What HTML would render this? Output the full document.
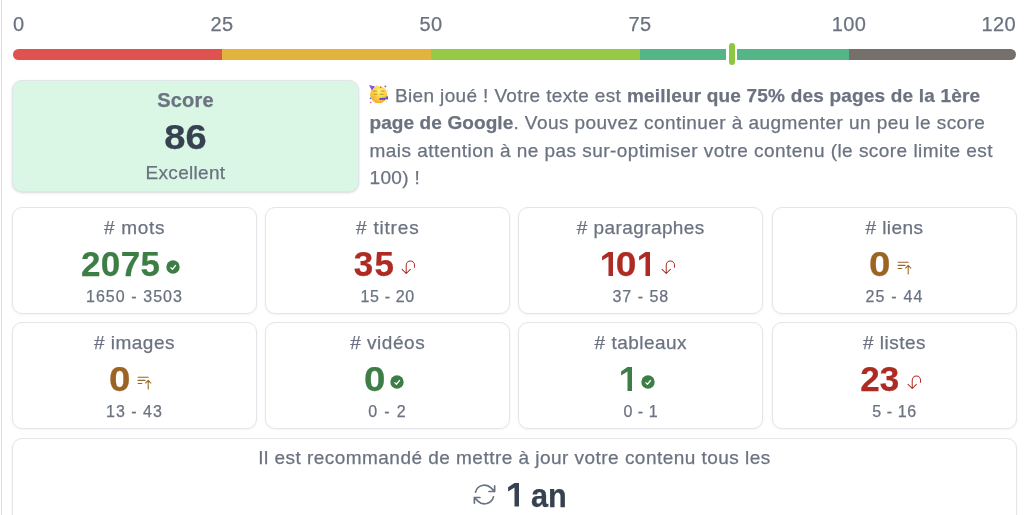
<!DOCTYPE html>
<html><head><meta charset="utf-8">
<style>
*{box-sizing:border-box;margin:0;padding:0}
html,body{width:1024px;height:515px;overflow:hidden;background:#fff}
body{position:relative;-webkit-text-stroke:0.25px currentColor;-webkit-font-smoothing:antialiased;will-change:transform;font-family:"Liberation Sans",sans-serif;color:#6b7280}
.vline{position:absolute;left:1px;top:0;width:1px;height:515px;background:#d9dbe1}
.lbl{position:absolute;top:14px;font-size:20px;line-height:20px;color:#6b7280;white-space:nowrap;letter-spacing:0.4px}
.bar{position:absolute;left:13px;top:49px;width:1003px;height:11px;border-radius:5.5px;overflow:hidden;display:flex}
.bar div{height:100%}
.marker{position:absolute;left:726px;top:41px;width:11px;height:26px;background:#fff;border-radius:5.5px}
.marker i{position:absolute;left:2.9px;top:2px;width:6px;height:22px;border-radius:3px;background:#8dc63f}
.score{position:absolute;left:12px;top:80px;width:347px;height:112px;background:#daf7e6;border:1px solid #e2e5e9;border-radius:10px;box-shadow:0 1px 3px rgba(0,0,0,.1),0 1px 2px rgba(0,0,0,.06);text-align:center}
.score .t{position:absolute;left:0;right:0;white-space:nowrap}
.para{position:absolute;left:369.5px;top:81.8px;font-size:19px;line-height:27.45px;color:#6b7280;white-space:nowrap}
.para b{font-weight:bold}
.emo{position:absolute;left:-3.5px;top:0.2px;width:26px;height:24px}
.card{position:absolute;width:245px;height:106.5px;border:1px solid #e3e5ea;border-radius:10px;background:#fff;box-shadow:0 1px 3px rgba(0,0,0,.05)}
.card .l{position:absolute;left:0;right:0;top:9.7px;text-align:center;font-size:19px;line-height:19px;white-space:nowrap}
.card .n{position:absolute;left:0;right:0;top:38px;height:35px;display:flex;justify-content:center;align-items:flex-start;font-weight:bold;font-size:35px;line-height:35px;white-space:nowrap;padding-right:6px}
.card .r{position:absolute;left:0;right:0;top:81px;text-align:center;font-size:16px;line-height:16px;white-space:nowrap}
.num{display:flex;align-items:flex-start}
.z{transform:scaleX(1.1)}
.one{display:block;margin-top:5.6px;fill:currentColor}
.g{color:#3c7e45}.rd{color:#ad2b22}.br{color:#9b6424}
.ic{display:block;margin-left:6px}
.ck{margin-top:14.1px}.ut{margin-top:12.6px;margin-left:6.9px}.ba{margin-top:12.7px;margin-left:6.8px}
.upd{position:absolute;left:0;right:0;top:40px;padding-left:11px;height:33px;display:flex;justify-content:center;align-items:flex-start;font-weight:bold;font-size:33px;line-height:33px;color:#374151;white-space:nowrap}
</style></head><body>
<div class="vline"></div>
<div class="lbl" style="left:13px">0</div>
<div class="lbl" style="left:222px;transform:translateX(-50%)">25</div>
<div class="lbl" style="left:431px;transform:translateX(-50%)">50</div>
<div class="lbl" style="left:640px;transform:translateX(-50%)">75</div>
<div class="lbl" style="left:849px;transform:translateX(-50%)">100</div>
<div class="lbl" style="right:8px">120</div>
<div class="bar">
<div style="width:209px;background:#df524f"></div>
<div style="width:209px;background:#e2b43e"></div>
<div style="width:209px;background:#96c946"></div>
<div style="width:209px;background:#54b586"></div>
<div style="flex:1;background:#75706c"></div>
</div>
<div class="marker"><i></i></div>

<div class="score">
<div class="t" style="top:8.5px;font-weight:bold;font-size:20px;line-height:20px;color:#6b7280;letter-spacing:0.2px">Score</div>
<div class="t" style="top:38.3px;font-weight:bold;font-size:35px;line-height:35px;color:#374151;transform:scaleX(1.09)">86</div>
<div class="t" style="top:82px;font-size:19px;line-height:19px;color:#6b7280;letter-spacing:0.3px">Excellent</div>
</div>

<div class="para">
<svg class="emo" viewBox="0 0 26 24" width="26" height="24">
<defs><radialGradient id="fg" cx="0.55" cy="0.3" r="0.78"><stop offset="0" stop-color="#fff176"/><stop offset="0.45" stop-color="#fdd444"/><stop offset="0.85" stop-color="#f6ae31"/><stop offset="1" stop-color="#ef9a2a"/></radialGradient>
<linearGradient id="hg" x1="0" y1="0" x2="1" y2="1"><stop offset="0" stop-color="#9a5ee6"/><stop offset="1" stop-color="#5b4bd4"/></linearGradient></defs>
<circle cx="12.7" cy="12.6" r="8.6" fill="url(#fg)"/>
<ellipse cx="8" cy="15" rx="2" ry="1.3" fill="#f59a6a" opacity=".35"/>
<path d="M2.9 3.1 L9.2 4.4 Q6.9 5.8 6 8.4 Z" fill="url(#hg)"/>
<g stroke="#7a5420" stroke-width="0.8" stroke-linecap="round" opacity=".7" fill="none"><path d="M7.4 9.2q1.6-.5 3.2 0"/><path d="M15.1 9.2q1.5-.5 3 0"/><path d="M8 12.2q1.5.4 3 0"/><path d="M14.2 12.2q1.5.4 3 0"/></g>
<path d="M13.6 16.1 L19.4 15.8 L19.5 17.8 L13.7 18.1 Z" fill="#4d45c2"/>
<path d="M15.6 16v2M17.6 15.9v2" stroke="#d9467a" stroke-width=".7"/>
<path d="M19.5 15 L21.9 14.1 L22.1 17.4 L19.6 17.6 Z" fill="#6a52dc"/>
<circle cx="19.4" cy="4.4" r="0.9" fill="#3b6be0"/><circle cx="14.7" cy="5.3" r="0.8" fill="#e5484d"/>
<circle cx="4.4" cy="16.4" r="0.8" fill="#4a7ae8"/><circle cx="4.8" cy="20.4" r="0.9" fill="#ee6f9b"/>
<circle cx="10.2" cy="3.8" r="0.6" fill="#f6a33a"/><circle cx="21.5" cy="8.7" r="0.6" fill="#f7d24a"/><circle cx="20.2" cy="19.4" r="0.5" fill="#f6b04a"/>
</svg><span style="display:inline-block;width:25.5px"></span><span style="letter-spacing:0.36px">Bien joué ! Votre texte est </span><b style="letter-spacing:0.19px">meilleur que 75% des pages de la 1ère</b><br>
<b style="letter-spacing:0.1px">page de Google</b><span style="letter-spacing:0.43px">. Vous pouvez continuer à augmenter un peu le score</span><br>
<span style="letter-spacing:0.46px">mais attention à ne pas sur-optimiser votre contenu (le score limite est</span><br>
<span style="letter-spacing:0.35px">100) !</span>
</div>

<div class="card" style="left:12px;top:207px"><div class="l" style="letter-spacing:0.7px">#&nbsp;mots</div><div class="n g" style="padding-right:8px"><span class="num" style="letter-spacing:0.35px;margin-right:-0.35px">2075</span><svg class="ic ck" width="14" height="14" viewBox="0 0 14 14"><circle cx="7" cy="7" r="6.7" fill="#3c7e45"/><path d="M4.85 7.6 6.4 9.3 9.5 5.5" fill="none" stroke="#fff" stroke-width="1.25" stroke-linecap="round" stroke-linejoin="round"/></svg></div><div class="r" style="letter-spacing:1.06px">1650 - 3503</div></div>
<div class="card" style="left:265.2px;top:207px"><div class="l" style="letter-spacing:0.81px">#&nbsp;titres</div><div class="n rd" style="padding-left:1px"><span class="num" style="letter-spacing:1.3px;margin-right:-1.3px">35</span><svg class="ic ut" style="margin-left:5.9px" width="16.6" height="16.6" viewBox="0 0 24 24" fill="none" stroke="#ad2b22" stroke-width="1.45" stroke-linecap="round" stroke-linejoin="round"><path d="m15 15-6 6m0 0-6-6m6 6V9a6 6 0 0 1 12 0v3"/></svg></div><div class="r" style="letter-spacing:0.67px">15 - 20</div></div>
<div class="card" style="left:518.3px;top:207px"><div class="l" style="letter-spacing:0.41px">#&nbsp;paragraphes</div><div class="n rd" style="padding-right:3px"><span class="num"><svg class="one" width="14.6" height="24.2" viewBox="0 0 14.6 24.2"><path d="M6.5 0H11V24.2H6.5V4.6L0.1 8.6V4.4Z"/></svg><span style="display:block;transform:translateX(0.4px) scaleX(1.06)">0</span><svg class="one" style="margin-left:2.9px" width="14.6" height="24.2" viewBox="0 0 14.6 24.2"><path d="M6.5 0H11V24.2H6.5V4.6L0.1 8.6V4.4Z"/></svg></span><svg class="ic ut" width="16.6" height="16.6" viewBox="0 0 24 24" fill="none" stroke="#ad2b22" stroke-width="1.45" stroke-linecap="round" stroke-linejoin="round"><path d="m15 15-6 6m0 0-6-6m6 6V9a6 6 0 0 1 12 0v3"/></svg></div><div class="r" style="letter-spacing:1px">37 - 58</div></div>
<div class="card" style="left:772px;top:207px"><div class="l" style="letter-spacing:0.45px">#&nbsp;liens</div><div class="n br"><span class="num z">0</span><svg class="ic ba" width="17" height="17" viewBox="0 0 24 24" fill="none" stroke="#9b6424" stroke-width="1.5" stroke-linecap="round" stroke-linejoin="round"><path d="M3 4.5h14.25M3 9h9.75M3 13.5h5.25m5.25-.75L17.25 9m0 0L21 12.75M17.25 9v12"/></svg></div><div class="r" style="letter-spacing:1.2px">25 - 44</div></div>

<div class="card" style="left:12px;top:322.3px"><div class="l" style="letter-spacing:0.47px">#&nbsp;images</div><div class="n br"><span class="num z">0</span><svg class="ic ba" width="17" height="17" viewBox="0 0 24 24" fill="none" stroke="#9b6424" stroke-width="1.5" stroke-linecap="round" stroke-linejoin="round"><path d="M3 4.5h14.25M3 9h9.75M3 13.5h5.25m5.25-.75L17.25 9m0 0L21 12.75M17.25 9v12"/></svg></div><div class="r" style="letter-spacing:1px">13 - 43</div></div>
<div class="card" style="left:265.2px;top:322.3px"><div class="l" style="letter-spacing:0.53px">#&nbsp;vidéos</div><div class="n g"><span class="num z">0</span><svg class="ic ck" width="14" height="14" viewBox="0 0 14 14"><circle cx="7" cy="7" r="6.7" fill="#3c7e45"/><path d="M4.85 7.6 6.4 9.3 9.5 5.5" fill="none" stroke="#fff" stroke-width="1.25" stroke-linecap="round" stroke-linejoin="round"/></svg></div><div class="r" style="letter-spacing:1.33px">0 - 2</div></div>
<div class="card" style="left:518.3px;top:322.3px"><div class="l" style="letter-spacing:0.47px">#&nbsp;tableaux</div><div class="n g"><span class="num"><svg class="one" width="14.6" height="24.2" viewBox="0 0 14.6 24.2"><path d="M6.5 0H11V24.2H6.5V4.6L0.1 8.6V4.4Z"/></svg></span><svg class="ic ck" width="14" height="14" viewBox="0 0 14 14"><circle cx="7" cy="7" r="6.7" fill="#3c7e45"/><path d="M4.85 7.6 6.4 9.3 9.5 5.5" fill="none" stroke="#fff" stroke-width="1.25" stroke-linecap="round" stroke-linejoin="round"/></svg></div><div class="r" style="letter-spacing:0.53px">0 - 1</div></div>
<div class="card" style="left:772px;top:322.3px"><div class="l" style="letter-spacing:0.5px">#&nbsp;listes</div><div class="n rd"><span class="num">23</span><svg class="ic ut" width="16.6" height="16.6" viewBox="0 0 24 24" fill="none" stroke="#ad2b22" stroke-width="1.45" stroke-linecap="round" stroke-linejoin="round"><path d="m15 15-6 6m0 0-6-6m6 6V9a6 6 0 0 1 12 0v3"/></svg></div><div class="r" style="letter-spacing:0.56px">5 - 16</div></div>

<div class="card" style="left:12px;top:438px;width:1005px;height:120px"><div class="l" style="top:8.5px;letter-spacing:0.47px">Il est recommandé de mettre à jour votre contenu tous les</div><div class="upd"><svg style="display:block;margin-top:1.5px;margin-right:10px" width="27" height="27" viewBox="0 0 24 24" fill="none" stroke="#6b7280" stroke-width="1.5" stroke-linecap="round" stroke-linejoin="round"><path d="M16.023 9.348h4.992v-.001M2.985 19.644v-4.992m0 0h4.992m-4.993 0 3.181 3.183a8.25 8.25 0 0 0 13.803-3.7M4.031 9.865a8.25 8.25 0 0 1 13.803-3.7l3.181 3.182m0-4.991v4.99"/></svg><svg class="one" style="margin-top:4.4px;margin-right:11.7px" width="11.3" height="23.6" viewBox="0 0 11.3 24.2" preserveAspectRatio="none"><path d="M6.5 0H11V24.2H6.5V4.6L0.1 8.6V4.4Z"/></svg><span style="display:block;transform:scaleX(.93);transform-origin:0 0">an</span></div></div>
</body></html>
